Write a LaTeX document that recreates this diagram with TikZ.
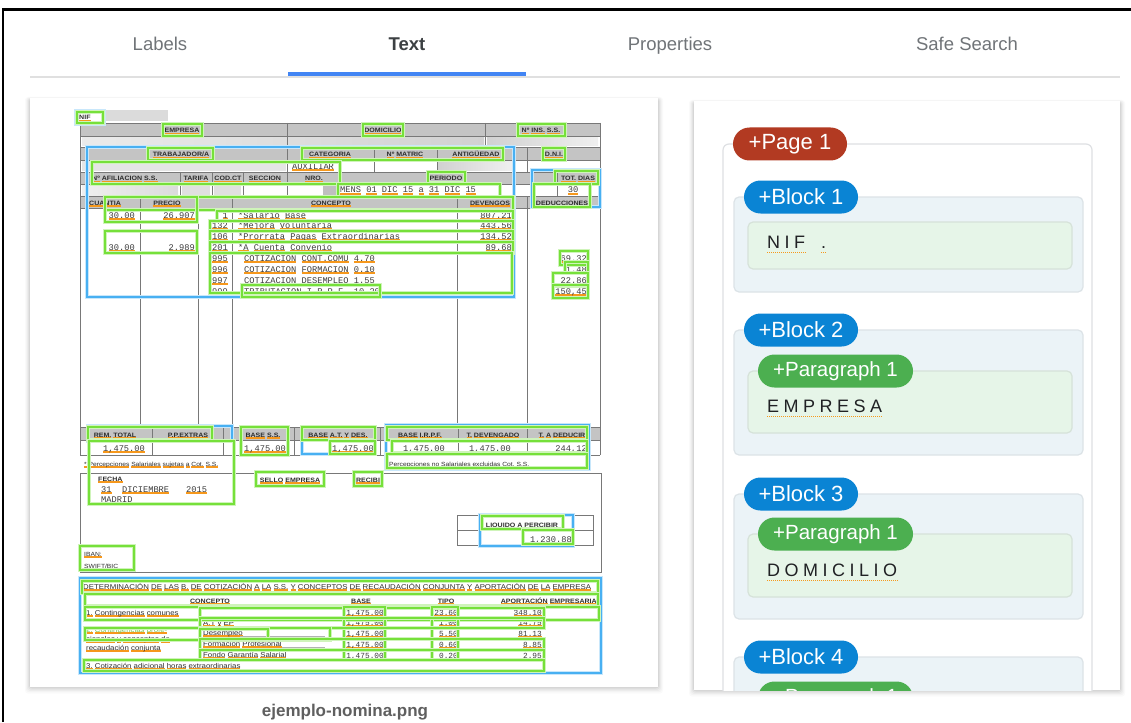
\documentclass[tikz,border=0pt]{standalone}
\usepackage{fontspec}
\setmainfont{Liberation Sans}
\newfontfamily\monofont{Liberation Mono}
\newfontfamily\docwide[FakeStretch=1.12]{Liberation Sans}
\newfontfamily\spacedfont[LetterSpace=25]{Liberation Sans}

\definecolor{gcol}{RGB}{118,224,58}
\definecolor{bcol}{RGB}{72,176,242}
\definecolor{ulc}{RGB}{246,152,28}
\definecolor{hdr}{RGB}{196,196,196}
\definecolor{rulec}{RGB}{120,120,120}
\definecolor{doctext}{RGB}{45,45,45}
\definecolor{monotext}{RGB}{60,60,60}
\definecolor{tabgray}{RGB}{112,116,120}
\definecolor{tabdark}{RGB}{60,64,67}
\definecolor{tabblue}{RGB}{66,133,244}
\definecolor{pagered}{RGB}{178,58,34}
\definecolor{blockblue}{RGB}{10,132,212}
\definecolor{paragreen}{RGB}{76,175,80}
\definecolor{blockfill}{RGB}{235,243,247}
\definecolor{blockline}{RGB}{220,227,231}
\definecolor{parafill}{RGB}{230,245,232}
\definecolor{paraline}{RGB}{214,226,217}
\definecolor{framegray}{RGB}{222,224,227}
\definecolor{captiongray}{RGB}{95,95,95}
\definecolor{darktext}{RGB}{32,33,36}
\definecolor{lightgreentext}{RGB}{120,200,80}

% word-by-word orange underline
\newcommand\uw[1]{\setbox0=\hbox{#1}\rlap{\color{ulc}\rule[-1.6pt]{\wd0}{1.2pt}}\box0}
\def\ulw#1{\ulwi#1 \ulend}
\def\ulwi#1 #2\ulend{\uw{#1}\ifx\relax#2\relax\else\ \ulwi#2\ulend\fi}

% named text node of the scanned payslip
\newcounter{dtc}
\newcommand\dt[4][]{\stepcounter{dtc}\edef\dtn{d\arabic{dtc}}\node[dtx,#1] (\dtn) at (#2,#3) {\ulw{#4}};}
\newcommand\gb[4]{\draw[gbx] (#1,#2) rectangle (#3,#4);}
\newcommand\bb[4]{\draw[bbx] (#1,#2) rectangle (#3,#4);}
\newcommand\cardshadow[4]{%
  \foreach \k/\o in {5/0.02,4/0.025,3/0.03,2/0.04,1/0.05}{%
    \fill[black,opacity=\o,rounded corners=3pt] (#1-\k,#2-0.4*\k+1) rectangle (#3+\k,#4+1.3*\k);}}

\tikzset{
  dtx/.style={inner sep=0pt, anchor=base west, text=doctext},
  hd/.style={font=\fontsize{6.3}{7}\selectfont\docwide\bfseries},
  mn/.style={font=\fontsize{8.7}{9}\selectfont\monofont, text=monotext},
  mns/.style={font=\fontsize{7.8}{9}\selectfont\monofont, text=monotext},
  sm/.style={font=\fontsize{6}{7}\selectfont\docwide},
  lb/.style={font=\fontsize{7}{8}\selectfont\docwide},
  ln/.style={draw=rulec, line width=0.6pt},
  gbx/.style={draw=gcol, line width=1.5pt, preaction={draw=gcol!35, line width=3.2pt}},
  bbx/.style={draw=bcol, line width=1.6pt, preaction={draw=bcol!30, line width=3.4pt}},
  tab/.style={font=\fontsize{18.5}{20}\selectfont, text=tabgray, inner sep=0pt, anchor=base},
  pill/.style={rounded corners=16.5pt, minimum height=33pt, text=white, inner sep=0pt,
    font=\fontsize{22}{23}\selectfont},
  blockbox/.style={fill=blockfill, draw=blockline, line width=1.2pt, rounded corners=5pt},
  parabox/.style={fill=parafill, draw=paraline, line width=1.2pt, rounded corners=5pt},
  rtext/.style={font=\fontsize{18}{20}\selectfont\spacedfont, text=darktext, inner sep=0pt, anchor=base west},
  dul/.style={draw=ulc, line width=1pt, dash pattern=on 1pt off 1pt},
  leader/.style={draw=black!30, line width=0.5pt},
}

\begin{document}
\begin{tikzpicture}[x=1pt,y=-1pt]
\useasboundingbox (0,0) rectangle (1131,722);
\fill[white] (0,0) rectangle (1131,722);

% window frame
\draw[line width=2.2pt, black] (3,722) -- (3,9.5) -- (1131,9.5);

% tab bar
\node[tab] (tlabels) at (160,51) {Labels};
\node[tab, text=tabdark, font=\fontsize{18.5}{20}\selectfont\bfseries] (ttext) at (407,51) {Text};
\node[tab] (tprops) at (670,51) {Properties};
\node[tab] (tsafe) at (967,51) {Safe Search};
\draw[draw=black!12, line width=1.2pt] (30,77) -- (1120,77);
\fill[tabblue] (288,72) rectangle (526,76);

% cards
\cardshadow{30}{98}{658}{687}
\fill[white] (30,98) rectangle (658,687);
\cardshadow{694}{101}{1120}{690}
\fill[white] (694,101) rectangle (1120,690);

\node[font=\fontsize{17}{20}\selectfont\bfseries, text=captiongray, anchor=base] (caption) at (345,716) {ejemplo-nomina.png};

% ---------------- payslip ----------------
% NIF line
\fill[black!14] (103,110) rectangle (168,121);
\dt[hd]{79}{120}{NIF}

% header bands
\fill[hdr] (80,123) rectangle (600,136);
\fill[hdr] (80,147) rectangle (600,160);
\fill[hdr] (80,172) rectangle (600,184);
\fill[hdr] (80,196) rectangle (600,208);
\fill[hdr] (80,427) rectangle (600,440);
% blurred data cells
\shade[left color=black!8, right color=black!18] (82,137) rectangle (484,146);
\shade[left color=black!18, right color=black!6] (487,137) rectangle (598,146);
\fill[black!10] (82,161) rectangle (286,171);
\shade[left color=black!18, right color=black!6] (438,161) rectangle (512,171);
\shade[left color=black!6, right color=black!14] (82,185) rectangle (178,195);
\fill[black!12] (182,185) rectangle (210,195);
\fill[black!12] (214,185) rectangle (241,195);
\fill[black!25] (323,186) rectangle (336,195);

% table rules
\foreach \yy in {123,136,147,160,172,184,196,208,427,440,455}
  \draw[ln] (80,\yy) -- (600,\yy);
\draw[ln] (80,123) -- (80,455);
\draw[ln] (600,123) -- (600,455);
\foreach \xx in {287,485} \draw[ln] (\xx,123) -- (\xx,147);
\foreach \xx in {287,374,437,527} \draw[ln] (\xx,147) -- (\xx,172);
\foreach \xx in {180,212,243,287,338,533,557} \draw[ln] (\xx,172) -- (\xx,196);
\foreach \xx in {140,198,232,457,527} \draw[ln] (\xx,196) -- (\xx,427);
\foreach \xx in {152,223,232,294,380,458,527} \draw[ln] (\xx,427) -- (\xx,455);

% header labels
\dt[hd,anchor=base]{182}{133}{EMPRESA}
\dt[hd,anchor=base]{383}{133}{DOMICILIO}
\dt[hd,anchor=base]{541}{133}{Nº INS. S.S.}
\dt[hd,anchor=base]{181}{157}{TRABAJADOR/A}
\dt[hd,anchor=base]{330}{157}{CATEGORIA}
\dt[hd,anchor=base]{405}{157}{Nº MATRIC}
\dt[hd,anchor=base]{476}{157}{ANTIGÜEDAD}
\dt[hd,anchor=base]{554}{157}{D.N.I.}
\dt[mn]{292}{169}{AUXILIAR}
\dt[hd]{92}{181}{Nº AFILIACION S.S.}
\dt[hd,anchor=base]{196}{181}{TARIFA}
\dt[hd,anchor=base]{228}{181}{COD.CT}
\dt[hd,anchor=base]{265}{181}{SECCION}
\dt[hd,anchor=base]{314}{181}{NRO.}
\dt[hd,anchor=base]{446}{181}{PERIODO}
\dt[hd,anchor=base]{578}{181}{TOT. DIAS}
\dt[mn]{340}{193}{MENS 01 DIC 15 a 31 DIC 15}
\dt[mn,anchor=base]{573}{193}{30}
\dt[hd]{89}{205}{CUANTIA}
\dt[hd,anchor=base]{167}{205}{PRECIO}
\dt[hd,anchor=base]{331}{205}{CONCEPTO}
\dt[hd,anchor=base]{490}{205}{DEVENGOS}
\dt[hd,anchor=base]{562}{205}{DEDUCCIONES}

% body lines
\dt[mn,anchor=base east]{135}{218}{30.00}
\dt[mn,anchor=base east]{195}{218}{26.907}
\dt[mn,anchor=base east]{228}{218}{1}
\dt[mn]{238}{218}{*Salario Base}
\dt[mn,anchor=base east]{512}{218}{807.21}
\dt[mn,anchor=base east]{228}{228}{132}
\dt[mn]{238}{228}{*Mejora Voluntaria}
\dt[mn,anchor=base east]{512}{228}{443.56}
\dt[mn,anchor=base east]{228}{239}{106}
\dt[mn]{238}{239}{*Prorrata Pagas Extraordinarias}
\dt[mn,anchor=base east]{512}{239}{134.52}
\dt[mn,anchor=base east]{135}{250}{30.00}
\dt[mn,anchor=base east]{195}{250}{2.989}
\dt[mn,anchor=base east]{228}{250}{201}
\dt[mn]{238}{250}{*A Cuenta Convenio}
\dt[mn,anchor=base east]{512}{250}{89.68}
\dt[mn,anchor=base east]{228}{261}{995}
\dt[mn]{244}{261}{COTIZACION CONT.COMU 4.70}
\dt[mn,anchor=base east]{587}{261}{69.32}
\dt[mn,anchor=base east]{228}{272}{996}
\dt[mn]{244}{272}{COTIZACION FORMACION 0.10}
\dt[mn,anchor=base east]{587}{272}{1.48}
\dt[mn,anchor=base east]{228}{283}{997}
\dt[mn]{244}{283}{COTIZACION DESEMPLEO 1.55}
\dt[mn,anchor=base east]{587}{283}{22.86}
\dt[mn,anchor=base east]{228}{294}{999}
\dt[mn]{244}{294}{TRIBUTACION I.R.P.F. 10.20}
\dt[mn,anchor=base east]{587}{294}{150,45}

% totals
\dt[hd,anchor=base]{115}{437}{REM. TOTAL}
\dt[hd,anchor=base]{188}{437}{P.P.EXTRAS}
\dt[hd,anchor=base]{263}{437}{BASE S.S.}
\dt[hd,anchor=base]{338}{437}{BASE A.T. Y DES.}
\dt[hd,anchor=base]{420}{437}{BASE I.R.P.F.}
\dt[hd,anchor=base]{493}{437}{T. DEVENGADO}
\dt[hd,anchor=base]{562}{437}{T. A DEDUCIR}
\dt[mn,anchor=base]{124}{451}{1,475.00}
\dt[mn,anchor=base]{265}{451}{1,475.00}
\dt[mn,anchor=base]{353}{451}{1,475.00}
\dt[mn,anchor=base]{424}{451}{1,475.00}
\dt[mn,anchor=base]{490}{451}{1,475.00}
\dt[mn,anchor=base east]{587}{451}{244,12}
\dt[sm]{84}{466}{* Percepciones Salariales sujetas a Cot. S.S.}
\dt[sm]{389}{466}{Percepciones no Salariales excluidas Cot. S.S.}

% signature area
\draw[ln] (80,473) rectangle (601,572);
\dt[hd]{98}{481}{FECHA}
\dt[mn]{101}{492}{31}
\dt[mn]{122}{492}{DICIEMBRE}
\dt[mn]{186}{492}{2015}
\dt[mn]{101}{502}{MADRID}
\dt[hd,anchor=base]{290}{482}{SELLO EMPRESA}
\dt[hd,anchor=base]{368}{482}{RECIBI}
\draw[ln] (457,515) rectangle (593,545);
\draw[ln] (457,530) -- (593,530);
\dt[hd,anchor=base]{522}{527}{LIQUIDO A PERCIBIR}
\dt[mn,anchor=base east]{572}{542}{1,230.88}
\dt[sm]{84}{556}{IBAN:}
\dt[sm]{84}{568}{SWIFT/BIC}

% contributions table
\draw[ln] (80,578) rectangle (600,672);
\dt[font=\fontsize{7}{8}\selectfont\docwide]{83}{589}{DETERMINACIÓN DE LAS B. DE COTIZACIÓN A LA S.S. Y CONCEPTOS DE RECAUDACIÓN CONJUNTA Y APORTACIÓN DE LA EMPRESA}
\dt[hd,anchor=base]{210}{603}{CONCEPTO}
\dt[hd,anchor=base]{361}{603}{BASE}
\dt[hd,anchor=base]{446}{603}{TIPO}
\dt[hd,anchor=base east]{597}{603}{APORTACIÓN EMPRESARIA}
\dt[lb]{86}{615}{1. Contingencias comunes}
\dt[lb]{203}{625}{A.T y EP}
\dt[lb,text=lightgreentext]{86}{632}{2. Contingencias profe-}
\dt[lb]{203}{635}{Desempleo}
\dt[lb]{86}{641}{sionales y conceptos de}
\dt[lb]{86}{650}{recaudación conjunta}
\dt[lb]{203}{646}{Formación Profesional}
\dt[lb]{203}{657}{Fondo Garantía Salarial}
\dt[lb]{86}{668}{3. Cotización adicional horas extraordinarias}
\draw[leader] (236,626) -- (325,626);
\draw[leader] (240,636) -- (325,636);
\draw[leader] (282,647) -- (325,647);
\draw[leader] (286,658) -- (325,658);
\draw[leader] (236,669) -- (325,669);
\foreach \yy/\tp/\ap in {615/23.60/348.10,625/1.00/14.75,636/5.50/81.13,647/0.60/8.85,658/0.20/2.95}{
  \dt[mns,anchor=base east]{384}{\yy}{1,475.00}
  \dt[mns,anchor=base east]{458}{\yy}{\tp}
  \dt[mns,anchor=base east]{542}{\yy}{\ap}
}

% detected regions: blocks
\bb{76}{111}{104}{124}
\bb{87}{147}{514}{297}
\bb{532}{170}{600}{207}
\bb{88}{426}{232}{441}
\bb{302}{427}{375}{454}
\bb{386}{425}{589}{469}
\bb{480}{515}{573}{546}
\bb{80}{578}{601}{673}

% detected regions: paragraphs and lines
\gb{77}{112}{103}{123}
\gb{163}{124}{202}{136}
\gb{363}{124}{403}{136}
\gb{518}{124}{565}{136}
\gb{148}{148}{213}{160}
\gb{302}{148}{503}{160}
\gb{543}{148}{565}{160}
\gb{92}{162}{340}{184}
\gb{428}{172}{465}{183}
\gb{338}{184}{500}{197}
\gb{555}{171}{598}{184}
\gb{534}{184}{590}{207}
\gb{105}{197}{513}{210}
\gb{105}{197}{197}{222}
\gb{217}{211}{513}{221}
\gb{210}{221}{513}{231}
\gb{105}{231}{197}{253}
\gb{210}{231}{513}{242}
\gb{210}{242}{513}{253}
\gb{210}{253}{512}{293}
\gb{242}{285}{380}{297}
\gb{560}{251}{588}{265}
\gb{565}{262}{588}{273}
\gb{553}{273}{588}{286}
\gb{553}{285}{588}{298}
\gb{88}{427}{212}{440}
\gb{89}{441}{234}{504}
\gb{241}{427}{288}{455}
\gb{302}{427}{375}{440}
\gb{330}{441}{375}{454}
\gb{387}{427}{587}{440}
\gb{392}{441}{587}{453}
\gb{387}{454}{587}{468}
\gb{256}{472}{324}{486}
\gb{354}{472}{382}{486}
\gb{482}{516}{563}{529}
\gb{523}{530}{573}{544}
\gb{80}{546}{134}{570}
\gb{82}{581}{598}{593}
\gb{85}{594}{598}{606}
\gb{85}{607}{599}{620}
\gb{200}{608}{544}{618}
\gb{344}{607}{385}{660}
\gb{432}{607}{458}{660}
\gb{200}{618}{544}{628}
\gb{85}{628}{330}{640}
\gb{200}{629}{268}{639}
\gb{200}{639}{544}{650}
\gb{200}{650}{544}{660}
\gb{84}{660}{544}{671}

% ---------------- text tree ----------------
\begin{scope}
\clip (694,101) rectangle (1120,690);
\draw[draw=framegray, fill=white, line width=1.2pt, rounded corners=6pt] (723,144) rectangle (1092,760);

\draw[blockbox] (734,197) rectangle (1083,292);
\draw[parabox] (748,222) rectangle (1072,269);
\draw[blockbox] (734,330) rectangle (1083,455);
\draw[parabox] (748,371) rectangle (1072,433);
\draw[blockbox] (734,494) rectangle (1083,619);
\draw[parabox] (748,534) rectangle (1072,597);
\draw[blockbox] (734,657) rectangle (1083,780);
\draw[parabox] (748,698) rectangle (1072,780);

\node[pill, fill=pagered, minimum width=114pt] (page1) at (790,144) {+Page 1};
\node[pill, fill=blockblue, minimum width=114pt] (block1) at (801,197) {+Block 1};
\node[pill, fill=blockblue, minimum width=114pt] (block2) at (801,330) {+Block 2};
\node[pill, fill=paragreen, minimum width=155pt, font=\fontsize{20.5}{22}\selectfont] (para21) at (835.5,371) {+Paragraph 1};
\node[pill, fill=blockblue, minimum width=114pt] (block3) at (801,494) {+Block 3};
\node[pill, fill=paragreen, minimum width=155pt, font=\fontsize{20.5}{22}\selectfont] (para31) at (835.5,534) {+Paragraph 1};
\node[pill, fill=blockblue, minimum width=114pt] (block4) at (801,657) {+Block 4};
\node[pill, fill=paragreen, minimum width=155pt, font=\fontsize{20.5}{22}\selectfont] (para41) at (835.5,698) {+Paragraph 1};

\node[rtext] (nif) at (767,248) {NIF};
\node[rtext] (dot) at (821,248) {.};
\draw[dul] ([yshift=-4pt]nif.base west) -- ([yshift=-4pt]nif.base east);
\draw[dul] ([yshift=-4pt]dot.base west) -- ([yshift=-4pt]dot.base east);
\node[rtext] (empresa) at (767,412) {EMPRESA};
\draw[dul] ([yshift=-4pt]empresa.base west) -- ([yshift=-4pt]empresa.base east);
\node[rtext] (domicilio) at (767,576) {DOMICILIO};
\draw[dul] ([yshift=-4pt]domicilio.base west) -- ([yshift=-4pt]domicilio.base east);
\end{scope}
\end{tikzpicture}
\end{document}
